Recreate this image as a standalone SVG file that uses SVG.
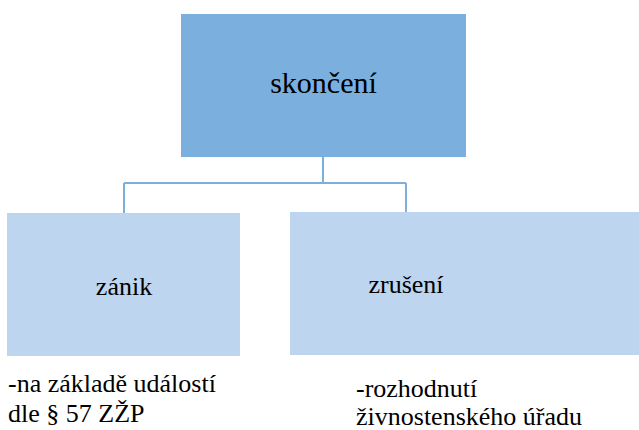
<svg xmlns="http://www.w3.org/2000/svg" width="639" height="430" viewBox="0 0 639 430">
<style>
svg g[id] text, svg text { font-family: "Liberation Serif", serif !important; }
</style>
<rect width="639" height="430" fill="#fff"/>
<g id="connectors" fill="none" stroke="#7BAFDE" stroke-width="2">
<path d="M323,157 V183 M124,183 H406 M124,183 V213 M406,183 V212"/>
</g>
<g id="skonceni">
<rect x="181" y="14" width="285" height="143" fill="#7BAFDE"/>
<text x="323.5" y="93" font-family="Liberation Serif" style="font-family:'Liberation Serif' !important" font-size="30" text-anchor="middle">skončení</text>
</g>
<g id="zanik">
<rect x="7" y="213" width="233" height="143" fill="#BDD5EE"/>
<text x="124" y="295" font-family="Liberation Serif" style="font-family:'Liberation Serif' !important" font-size="26" text-anchor="middle">zánik</text>
</g>
<g id="zruseni">
<rect x="290" y="212" width="349" height="143" fill="#BDD5EE"/>
<text x="406" y="293" font-family="Liberation Serif" style="font-family:'Liberation Serif' !important" font-size="26" text-anchor="middle">zrušení</text>
</g>
<g id="note-zanik">
<text x="8" y="392" font-family="Liberation Serif" style="font-family:'Liberation Serif' !important" font-size="26">-na základě událostí</text>
<text x="8" y="422" font-family="Liberation Serif" style="font-family:'Liberation Serif' !important" font-size="26">dle § 57 ZŽP</text>
</g>
<g id="note-zruseni">
<text x="356" y="397" font-family="Liberation Serif" style="font-family:'Liberation Serif' !important" font-size="26">-rozhodnutí</text>
<text x="356" y="425" font-family="Liberation Serif" style="font-family:'Liberation Serif' !important" font-size="26">živnostenského úřadu</text>
</g>
</svg>
